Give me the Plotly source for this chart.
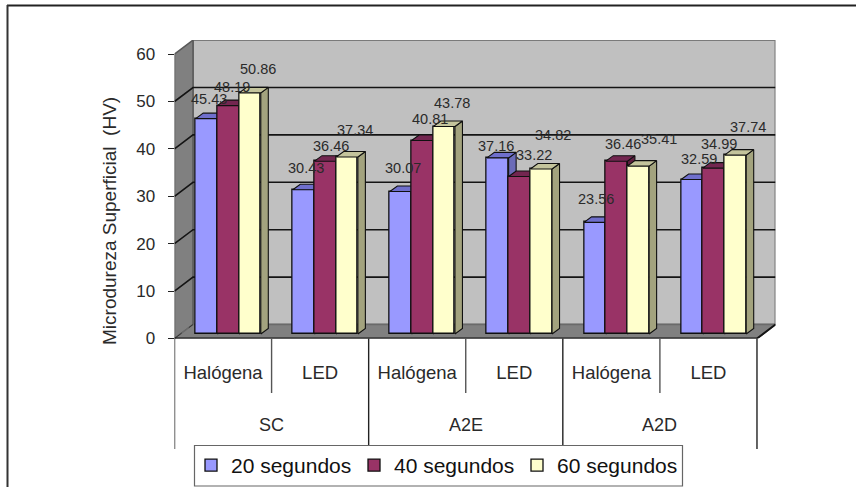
import plotly.graph_objects as go

# ---- data ----
groups = ["SC", "A2E", "A2D"]
lights = ["Halógena", "LED", "Halógena", "LED", "Halógena", "LED"]
series_names = ["20 segundos", "40 segundos", "60 segundos"]
values_20 = [45.43, 30.43, 30.07, 37.16, 23.56, 32.59]
values_40 = [48.19, 36.46, 40.81, 33.22, 36.46, 34.99]
values_60 = [50.86, 37.34, 43.78, 34.82, 35.41, 37.74]
y_ticks = [0, 10, 20, 30, 40, 50, 60]

# ---- style ----
colors = ["#9999FF", "#993366", "#FFFFCC"]
top_colors = ["#6F6FCC", "#732650", "#C4C49C"]
side_colors = ["#6B6BB8", "#5E1F3F", "#A3A37E"]
label_dx = [[2.5, 3.8, 8], [2.4, 5.7, 8], [2.3, 7.6, 7.9], [-1.8, 14.5, 11.8], [1.1, 6.4, 20.7], [7, 5.3, 12.6]]
label_up = [[20, 19, 24], [22, 15, 27], [23.5, 21.6, 23.5], [12, 21.5, 34], [23, 17, 27], [20.5, 24, 28]]
FONT = "Liberation Sans"
W, H = 856, 487
X0, X1 = 174.5, 775.5      # pixel extent of the x axis
Y0, Y1 = 338.5, 39.9       # pixel extent of the y axis
CAT = 97.08                # pixels per category
UNIT = 4.74                # pixels per y unit
YMAX = (Y0 - Y1) / UNIT
XMAX = (X1 - X0) / CAT
WALL_DX, WALL_DY = 18.5 / CAT, 14 / UNIT
BAR_W = 21.7 / CAT
BAR_START = 21.2 / CAT
BAR_BASE = 4.5 / UNIT
DEPTH_DX, DEPTH_DY = 7.5 / CAT, 5.5 / UNIT
GRID = "#141414"
EDGE = "#7A7A7A"
BAR_EDGE = "#101010"

fig = go.Figure()
all_values = [values_20, values_40, values_60]
suffix = ["", "2", "3"]

for s, vals in enumerate(all_values):
    xa, ya = "x" + suffix[s], "y" + suffix[s]
    centers = [i + BAR_START + BAR_W * (s + 0.5) for i in range(len(vals))]
    fig.add_trace(go.Bar(
        x=centers, y=vals, base=BAR_BASE, width=BAR_W, name=series_names[s],
        marker=dict(color=colors[s], line=dict(color=BAR_EDGE, width=1.3)),
        xaxis=xa, yaxis=ya, hovertemplate="%{y}<extra>" + series_names[s] + "</extra>",
    ))
    side_x, side_y, top_x, top_y = [], [], [], []
    for c, v in zip(centers, vals):
        l, r, b, t = c - BAR_W / 2, c + BAR_W / 2, BAR_BASE, BAR_BASE + v
        side_x += [r, r + DEPTH_DX, r + DEPTH_DX, r, r, None]
        side_y += [b, b + DEPTH_DY, t + DEPTH_DY, t, b, None]
        top_x += [l, l + DEPTH_DX, r + DEPTH_DX, r, l, None]
        top_y += [t, t + DEPTH_DY, t + DEPTH_DY, t, t, None]
    for px, py, col in ((side_x, side_y, side_colors[s]), (top_x, top_y, top_colors[s])):
        fig.add_trace(go.Scatter(
            x=px, y=py, mode="lines", fill="toself", fillcolor=col,
            line=dict(color=BAR_EDGE, width=1.1), showlegend=False, hoverinfo="skip",
            xaxis=xa, yaxis=ya,
        ))

shapes = []
def poly(points, fill=None, color=EDGE, width=1.5, dash="solid", layer="below"):
    d = "M" + " L".join(f"{x},{y}" for x, y in points)
    if fill:
        d += " Z"
    shapes.append(dict(type="path", path=d, xref="x", yref="y", layer=layer,
                       fillcolor=fill or "rgba(0,0,0,0)", line=dict(color=color, width=width, dash=dash)))

n = len(lights)
# back wall, side wall and floor
poly([(WALL_DX, WALL_DY), (n + WALL_DX, WALL_DY), (n + WALL_DX, 60 + WALL_DY), (WALL_DX, 60 + WALL_DY)], "#C0C0C0", EDGE, 2)
poly([(0, 0), (WALL_DX, WALL_DY), (WALL_DX, 60 + WALL_DY), (0, 60)], "#808080", "#5A5A5A", 1.5)
poly([(0, 0), (n, 0), (n + WALL_DX, WALL_DY), (WALL_DX, WALL_DY)], "#808080", "#6A6A6A", 1.5)
for v in y_ticks[1:-1]:
    poly([(0, v), (WALL_DX, v + WALL_DY), (n + WALL_DX, v + WALL_DY)], None, GRID, 1.6)
poly([(0, 0), (WALL_DX, WALL_DY)], None, "#333333", 1, "dash")
poly([(0, 0), (n, 0), (n + WALL_DX, WALL_DY)], None, GRID, 2)

# category separators under the axis
def sep(i, y_bottom_px, color):
    shapes.append(dict(type="line", xref="x", yref="paper", x0=i, x1=i, y0=1 - y_bottom_px / H, y1=1 - Y0 / H,
                       line=dict(color=color, width=1.4), layer="above"))
for i in range(0, n + 1, 2):
    sep(i, 449, "#222222")
for i in range(1, n, 2):
    sep(i, 393, "#555555")

# outer frame lines
shapes.append(dict(type="line", xref="paper", yref="paper", x0=7 / W, x1=1, y0=1 - 5.5 / H, y1=1 - 5.5 / H,
                   line=dict(color="#222222", width=2), layer="above"))
shapes.append(dict(type="line", xref="paper", yref="paper", x0=7.5 / W, x1=7.5 / W, y0=0, y1=1 - 5 / H,
                   line=dict(color="#333333", width=2), layer="above"))
# legend box
shapes.append(dict(type="rect", xref="paper", yref="paper", x0=194.5 / W, x1=682.5 / W, y0=1 - 486 / H, y1=1 - 445.5 / H,
                   fillcolor="white", line=dict(color="#666666", width=1.2), layer="above"))

annotations = []
for i in range(n):
    for s, vals in enumerate(all_values):
        annotations.append(dict(
            x=i + BAR_START + BAR_W * (s + 0.5), y=BAR_BASE + vals[i], xref="x", yref="y",
            text=f"{vals[i]:.2f}", showarrow=False, xanchor="center", yanchor="middle",
            xshift=label_dx[i][s], yshift=label_up[i][s],
            font=dict(family=FONT, size=14.5, color="#2A2A2A"),
        ))
for g, name in enumerate(groups):
    annotations.append(dict(x=2 * g + 1, y=1 - 425 / H, xref="x", yref="paper", text=name, showarrow=False,
                            xanchor="center", yanchor="middle", font=dict(family=FONT, size=18, color="#2A2A2A")))
annotations.append(dict(x=109 / W, y=1 - 221 / H, xref="paper", yref="paper", text="Microdureza Superficial  (HV)",
                        textangle=-90, showarrow=False, xanchor="center", yanchor="middle",
                        font=dict(family=FONT, size=19, color="#2A2A2A")))

axis_x = dict(range=[0, XMAX], domain=[X0 / W, X1 / W], showgrid=False, zeroline=False, showline=False)
axis_y = dict(range=[0, YMAX], domain=[1 - Y0 / H, 1 - Y1 / H], showgrid=False, zeroline=False, showline=False)

fig.update_layout(
    width=W, height=H, autosize=False,
    margin=dict(l=0, r=0, t=0, b=0, pad=0),
    paper_bgcolor="white", plot_bgcolor="rgba(0,0,0,0)",
    barmode="overlay", bargap=0,
    font=dict(family=FONT, color="#2A2A2A"),
    xaxis=dict(axis_x, tickmode="array", tickvals=[i + 0.5 for i in range(n)], ticktext=lights, ticks="",
               ticklabelstandoff=21, tickfont=dict(family=FONT, size=18.5, color="#2A2A2A"), automargin=False),
    yaxis=dict(axis_y, tickmode="array", tickvals=y_ticks, ticks="outside", ticklen=6, tickwidth=1.3, tickcolor="#222222",
               ticklabelstandoff=9, tickfont=dict(family=FONT, size=17, color="#2A2A2A"), automargin=False),
    xaxis2=dict(axis_x, overlaying="x", matches="x", visible=False),
    yaxis2=dict(axis_y, overlaying="y", matches="y", visible=False),
    xaxis3=dict(axis_x, overlaying="x", matches="x", visible=False),
    yaxis3=dict(axis_y, overlaying="y", matches="y", visible=False),
    shapes=shapes, annotations=annotations,
    legend=dict(orientation="h", x=191 / W, y=1 - 445 / H, xanchor="left", yanchor="top",
                bgcolor="rgba(0,0,0,0)", borderwidth=0,
                font=dict(family=FONT, size=21, color="#111111"),
                itemwidth=30, entrywidth=118, entrywidthmode="pixels",
                itemclick=False, itemdoubleclick=False),
)

fig.write_html("out.html", config=dict(displayModeBar=False), post_script="document.body.style.margin='0';")
